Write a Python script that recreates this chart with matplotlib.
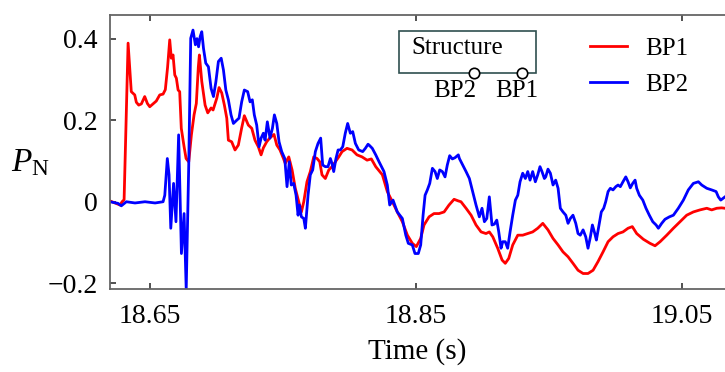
import matplotlib
matplotlib.use("Agg")
import matplotlib.pyplot as plt
from matplotlib.patches import Rectangle

plt.rcParams['font.family'] = ['Liberation Serif', 'DejaVu Serif']
plt.rcParams['mathtext.fontset'] = 'custom'
plt.rcParams['mathtext.rm'] = 'Liberation Serif'
plt.rcParams['mathtext.it'] = 'Liberation Serif:italic'

# ---------------- data ----------------
bp1_t = [18.6199, 18.6274, 18.6290, 18.6305, 18.6320, 18.6335, 18.6359, 18.6385, 18.6397,
         18.6415, 18.6435, 18.6460, 18.6480, 18.6498, 18.6523, 18.6547, 18.6573, 18.6598,
         18.6615, 18.6632, 18.6648, 18.6660, 18.6673, 18.6686, 18.6698, 18.6711, 18.6723,
         18.6735, 18.6756, 18.6771, 18.6791, 18.6811, 18.6831, 18.6848, 18.6863, 18.6871,
         18.6889, 18.6914, 18.6934, 18.6959, 18.6974, 18.7002, 18.7019, 18.7039, 18.7059,
         18.7077, 18.7089, 18.7114, 18.7139, 18.7164, 18.7189, 18.7209, 18.7239, 18.7265,
         18.7289, 18.7314, 18.7335, 18.7352, 18.7377, 18.7402, 18.7432, 18.7453, 18.7477,
         18.7502, 18.7517, 18.7543, 18.7568, 18.7592, 18.7618, 18.7638, 18.7656, 18.7680,
         18.7705, 18.7731, 18.7756, 18.7776, 18.7793, 18.7818, 18.7844, 18.7868, 18.7893,
         18.7919, 18.7944, 18.7981, 18.8019, 18.8056, 18.8094, 18.8132, 18.8164, 18.8197,
         18.8247, 18.8284, 18.8322, 18.8359, 18.8397, 18.8435, 18.8472, 18.8502, 18.8535,
         18.8560, 18.8598, 18.8635, 18.8673, 18.8711, 18.8748, 18.8786, 18.8818, 18.8838,
         18.8876, 18.8914, 18.8951, 18.8989, 18.9026, 18.9051, 18.9077, 18.9114, 18.9147,
         18.9171, 18.9197, 18.9227, 18.9265, 18.9302, 18.9340, 18.9377, 18.9415, 18.9453,
         18.9492, 18.9530, 18.9568, 18.9605, 18.9643, 18.9680, 18.9718, 18.9756, 18.9793,
         18.9831, 18.9868, 18.9906, 18.9944, 18.9981, 19.0019, 19.0056, 19.0094, 19.0126,
         19.0159, 19.0209, 19.0259, 19.0297, 19.0335, 19.0385, 19.0435, 19.0485, 19.0535,
         19.0585, 19.0635, 19.0686, 19.0723, 19.0761, 19.0798, 19.0823]
bp1_p = [0.002, -0.008, 0.000, 0.005, 0.200, 0.389, 0.270, 0.262, 0.244,
         0.237, 0.240, 0.258, 0.241, 0.233, 0.240, 0.247, 0.262, 0.264,
         0.275, 0.330, 0.397, 0.352, 0.360, 0.311, 0.303, 0.274, 0.270,
         0.180, 0.135, 0.106, 0.098, 0.164, 0.213, 0.241, 0.330, 0.360,
         0.295, 0.237, 0.218, 0.230, 0.225, 0.254, 0.280, 0.267, 0.237,
         0.205, 0.151, 0.147, 0.127, 0.139, 0.181, 0.211, 0.188, 0.180,
         0.151, 0.135, 0.115, 0.132, 0.147, 0.157, 0.165, 0.139, 0.127,
         0.107, 0.094, 0.110, 0.078, 0.033, 0.000, -0.025, 0.000, 0.049,
         0.074, 0.110, 0.106, 0.098, 0.066, 0.057, 0.078, 0.086, 0.098,
         0.110, 0.123, 0.131, 0.127, 0.115, 0.110, 0.102, 0.105, 0.086,
         0.066, 0.025, 0.000, -0.025, -0.049, -0.082, -0.102, -0.110, -0.090,
         -0.057, -0.037, -0.029, -0.029, -0.025, -0.008, 0.006, 0.002, 0.000,
         -0.016, -0.033, -0.057, -0.074, -0.078, -0.074, -0.086, -0.114, -0.143,
         -0.151, -0.139, -0.106, -0.082, -0.082, -0.078, -0.074, -0.065, -0.053,
         -0.069, -0.090, -0.106, -0.123, -0.135, -0.151, -0.168, -0.176, -0.176,
         -0.168, -0.147, -0.123, -0.098, -0.086, -0.078, -0.074, -0.065, -0.061,
         -0.078, -0.092, -0.102, -0.108, -0.098, -0.082, -0.065, -0.049, -0.033,
         -0.025, -0.020, -0.016, -0.020, -0.016, -0.015, -0.016]

bp2_t = [18.6199, 18.6259, 18.6284, 18.6322, 18.6387, 18.6462, 18.6538, 18.6598, 18.6611,
         18.6630, 18.6643, 18.6656, 18.6677, 18.6695, 18.6715, 18.6736, 18.6756, 18.6772,
         18.6791, 18.6806, 18.6823, 18.6841, 18.6853, 18.6865, 18.6877, 18.6889, 18.6902,
         18.6919, 18.6939, 18.6959, 18.6977, 18.6995, 18.7014, 18.7035, 18.7052, 18.7070,
         18.7089, 18.7109, 18.7127, 18.7152, 18.7169, 18.7189, 18.7209, 18.7234, 18.7252,
         18.7269, 18.7284, 18.7302, 18.7320, 18.7335, 18.7352, 18.7365, 18.7382, 18.7402,
         18.7420, 18.7435, 18.7453, 18.7470, 18.7490, 18.7513, 18.7530, 18.7547, 18.7562,
         18.7580, 18.7598, 18.7613, 18.7623, 18.7638, 18.7656, 18.7668, 18.7688, 18.7705,
         18.7723, 18.7743, 18.7763, 18.7783, 18.7798, 18.7818, 18.7838, 18.7856, 18.7868,
         18.7881, 18.7898, 18.7914, 18.7931, 18.7949, 18.7968, 18.7986, 18.8006, 18.8024,
         18.8044, 18.8069, 18.8099, 18.8119, 18.8139, 18.8147, 18.8171, 18.8197, 18.8222,
         18.8259, 18.8284, 18.8302, 18.8327, 18.8359, 18.8397, 18.8423, 18.8442, 18.8472,
         18.8492, 18.8517, 18.8535, 18.8553, 18.8568, 18.8585, 18.8603, 18.8623, 18.8643,
         18.8660, 18.8678, 18.8698, 18.8718, 18.8735, 18.8753, 18.8773, 18.8793, 18.8818,
         18.8826, 18.8851, 18.8876, 18.8901, 18.8926, 18.8951, 18.8976, 18.8996, 18.9014,
         18.9032, 18.9051, 18.9071, 18.9089, 18.9107, 18.9122, 18.9139, 18.9152, 18.9171,
         18.9189, 18.9207, 18.9227, 18.9247, 18.9265, 18.9282, 18.9302, 18.9322, 18.9340,
         18.9357, 18.9377, 18.9397, 18.9415, 18.9432, 18.9447, 18.9465, 18.9475, 18.9492,
         18.9510, 18.9530, 18.9550, 18.9568, 18.9585, 18.9605, 18.9626, 18.9643, 18.9660,
         18.9680, 18.9701, 18.9718, 18.9735, 18.9756, 18.9776, 18.9793, 18.9811, 18.9826,
         18.9844, 18.9856, 18.9876, 18.9893, 18.9911, 18.9926, 18.9944, 18.9961, 18.9981,
         19.0002, 19.0019, 19.0036, 19.0056, 19.0077, 19.0094, 19.0111, 19.0129, 19.0147,
         19.0159, 19.0179, 19.0205, 19.0229, 19.0254, 19.0280, 19.0305, 19.0322, 19.0347,
         19.0372, 19.0405, 19.0435, 19.0472, 19.0510, 19.0547, 19.0585, 19.0623, 19.0648,
         19.0686, 19.0723, 19.0756, 19.0773, 19.0791, 19.0823]
bp2_p = [0.000, -0.004, -0.010, 0.000, -0.003, 0.000, -0.003, 0.000, 0.016,
         0.106, 0.066, -0.065, 0.045, -0.049, 0.164, -0.127, -0.029, -0.215,
         0.090, 0.401, 0.421, 0.385, 0.400, 0.380, 0.405, 0.417, 0.376,
         0.340, 0.331, 0.278, 0.258, 0.294, 0.344, 0.352, 0.323, 0.274,
         0.250, 0.213, 0.192, 0.200, 0.205, 0.245, 0.274, 0.270, 0.245,
         0.250, 0.213, 0.188, 0.135, 0.156, 0.168, 0.151, 0.196, 0.156,
         0.180, 0.213, 0.192, 0.147, 0.123, 0.106, 0.037, 0.098, 0.041,
         0.045, 0.016, -0.033, -0.008, -0.037, -0.041, -0.065, 0.016, 0.066,
         0.078, 0.123, 0.143, 0.156, 0.090, 0.086, 0.086, 0.106, 0.094,
         0.074, 0.106, 0.127, 0.127, 0.135, 0.168, 0.192, 0.168, 0.172,
         0.143, 0.127, 0.123, 0.131, 0.141, 0.139, 0.131, 0.115, 0.098,
         0.074, 0.041, -0.008, 0.004, -0.025, -0.041, -0.082, -0.102, -0.106,
         -0.127, -0.127, -0.106, -0.033, 0.016, 0.029, 0.045, 0.082, 0.074,
         0.057, 0.078, 0.074, 0.061, 0.090, 0.113, 0.105, 0.108, 0.115,
         0.106, 0.090, 0.074, 0.057, 0.025, -0.008, -0.037, -0.016, -0.049,
         -0.041, 0.012, -0.057, -0.055, -0.045, -0.074, -0.114, -0.098, -0.098,
         -0.114, -0.074, -0.033, 0.004, 0.016, 0.049, 0.070, 0.057, 0.074,
         0.053, 0.074, 0.049, 0.066, 0.086, 0.074, 0.057, 0.061, 0.080,
         0.070, 0.041, 0.053, 0.033, -0.016, -0.025, -0.033, -0.053, -0.041,
         -0.033, -0.053, -0.078, -0.082, -0.069, -0.086, -0.114, -0.086, -0.057,
         -0.078, -0.094, -0.057, -0.025, -0.016, 0.000, 0.025, 0.033, 0.029,
         0.037, 0.041, 0.037, 0.049, 0.061, 0.049, 0.034, 0.045, 0.053,
         0.033, 0.016, 0.004, -0.016, -0.033, -0.049, -0.057, -0.065, -0.053,
         -0.043, -0.037, -0.033, -0.016, 0.004, 0.029, 0.045, 0.049, 0.041,
         0.033, 0.029, 0.025, 0.012, 0.004, 0.012]

series_labels = ['BP1', 'BP2']
x_ticks = [18.65, 18.85, 19.05]
x_ticklabels = ['18.65', '18.85', '19.05']
y_ticks = [-0.2, 0.0, 0.2, 0.4]
y_ticklabels = ['\u22120.2', '0', '0.2', '0.4']
structure_label = 'Structure'
point_labels = ['BP2', 'BP1']

# ---------------- figure ----------------
W, H = 725, 372
fig = plt.figure(figsize=(W / 100, H / 100), dpi=100)
ax_l, ax_r, ax_t, ax_b = 110, 725, 15, 289
ax = fig.add_axes([ax_l / W, 1 - ax_b / H, (ax_r - ax_l) / W, (ax_b - ax_t) / H])

ax.plot(bp1_t, bp1_p, color='#ff0000', lw=2.0, label=series_labels[0])
ax.plot(bp2_t, bp2_p, color='#0000ff', lw=2.0, label=series_labels[1])

ax.set_xlim(18.6199, 19.0823)
ax.set_ylim(-0.214, 0.458)
ax.set_xticks(x_ticks)
ax.set_xticklabels(x_ticklabels)
ax.set_yticks(y_ticks)
ax.set_yticklabels(y_ticklabels)
ax.tick_params(axis='x', direction='in', top=True, bottom=True, length=4, width=1.2,
               labelsize=20, pad=11, color='#333333')
ax.tick_params(axis='y', direction='in', left=True, right=False, length=4, width=1.2,
               labelsize=20, pad=9, color='#333333')
for s in ['left', 'top', 'bottom']:
    ax.spines[s].set_color('#666666')
    ax.spines[s].set_linewidth(1.3)
ax.spines['right'].set_visible(False)

ax.set_xlabel('Time (s)', fontsize=21, labelpad=6)
ax.set_ylabel(r'$P_{\mathrm{N}}$', fontsize=24, rotation=0, va='center', ha='center')
ax.yaxis.set_label_coords(-0.13, 0.46)

leg = ax.legend(loc='upper left', bbox_to_anchor=(0.76, 0.965), frameon=False,
                fontsize=18, handlelength=1.5, handletextpad=0.7, labelspacing=0.55,
                borderpad=0)
for ln in leg.get_lines():
    ln.set_linewidth(2.0)

# structure inset
def fx(px):
    return (px - ax_l) / (ax_r - ax_l)

def fy(py):
    return (ax_b - py) / (ax_b - ax_t)

rect = Rectangle((fx(399), fy(73)), fx(536) - fx(399), fy(31) - fy(73),
                 transform=ax.transAxes, fill=False, edgecolor='#2f4f4f', lw=1.2)
ax.add_patch(rect)
ax.text(fx(411), fy(48), structure_label, transform=ax.transAxes, fontsize=18,
        ha='left', va='center')
ax.plot([fx(474), fx(522)], [fy(73), fy(73)], transform=ax.transAxes, ls='none',
        marker='o', ms=7.5, mfc='white', mec='black', mew=1.2, clip_on=False)
ax.text(fx(455), fy(91), point_labels[0], transform=ax.transAxes, fontsize=18,
        ha='center', va='center')
ax.text(fx(517), fy(91), point_labels[1], transform=ax.transAxes, fontsize=18,
        ha='center', va='center')

fig.savefig('out.png', dpi=100)
